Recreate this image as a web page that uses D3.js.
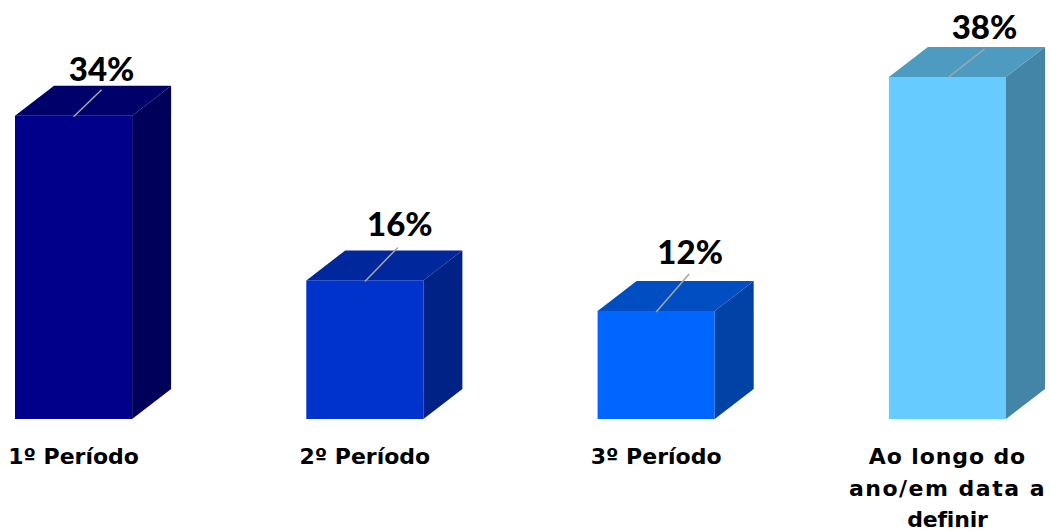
<!DOCTYPE html>
<html lang="pt">
<head>
<meta charset="UTF-8">
<title>Períodos</title>
<script src="https://d3js.org/d3.v7.min.js"></script>
<style>
  html, body { margin: 0; padding: 0; background: #fff; }
  svg { display: block; }
  text { font-family: "Lato", "Open Sans", sans-serif; font-weight: 900; fill: #000; }
  .cat { font-family: "DejaVu Sans", sans-serif; font-weight: 700; }
</style>
</head>
<body>
<svg id="chart" width="1050" height="532"></svg>
<script>
// values
var categories = ["1º Período", "2º Período", "3º Período", "Ao longo do|ano/em data a|definir"];
var values = [33.7, 15.4, 12, 38];
var valueLabels = ["34%", "16%", "12%", "38%"];
var barColors = ["#00008b", "#0033cc", "#0066ff", "#66ccff"];

// layout
var width = 1050, height = 532;
var baseY = 419, topY = 77;
var depthX = 39, depthY = 30;
// label and leader placement, relative to the middle of each bar's top edge
var labelDx = [28, 35, 34, 37];
var labelDy = [-35, -44, -47, -38];
var leaderDx = [28, 33, 33, 37];
var leaderDy = [-26, -33, -37, -28];
// the long label needs some tracking to reach the reference's line widths
var lineTracking = { "Ao longo do": 0.9, "ano/em data a": 1.5, "definir": -0.2 };

var svg = d3.select("#chart");

var x = d3.scaleBand()
    .domain(categories)
    .range([15, 1006])
    .paddingInner(0.598)
    .paddingOuter(0);

var y = d3.scaleLinear()
    .domain([0, 38])
    .range([baseY, topY]);

function shade(c, k) {
    var r = d3.rgb(c);
    return d3.rgb(r.r * k, r.g * k, r.b * k).formatHex();
}

var bars = svg.selectAll(".bar")
    .data(categories)
    .enter().append("g")
    .attr("class", "bar");

// side face
bars.append("path")
    .attr("fill", function(d, i) { return shade(barColors[i], 0.65); })
    .attr("d", function(d, i) {
        var x1 = x(d) + x.bandwidth(), t = y(values[i]);
        return "M" + x1 + "," + t + "L" + (x1 + depthX) + "," + (t - depthY) +
            "L" + (x1 + depthX) + "," + (baseY - depthY) + "L" + x1 + "," + baseY + "Z";
    });

// top face
bars.append("path")
    .attr("fill", function(d, i) { return shade(barColors[i], 0.76); })
    .attr("d", function(d, i) {
        var x0 = x(d), x1 = x0 + x.bandwidth(), t = y(values[i]);
        return "M" + x0 + "," + t + "L" + (x0 + depthX) + "," + (t - depthY) +
            "L" + (x1 + depthX) + "," + (t - depthY) + "L" + x1 + "," + t + "Z";
    });

// front face
bars.append("rect")
    .attr("x", function(d) { return x(d); })
    .attr("y", function(d, i) { return y(values[i]); })
    .attr("width", x.bandwidth())
    .attr("height", function(d, i) { return baseY - y(values[i]); })
    .attr("fill", function(d, i) { return barColors[i]; });

// leader lines
bars.append("line")
    .attr("x1", function(d) { return x(d) + x.bandwidth() / 2; })
    .attr("y1", function(d, i) { return y(values[i]) + 1; })
    .attr("x2", function(d, i) { return x(d) + x.bandwidth() / 2 + leaderDx[i]; })
    .attr("y2", function(d, i) { return y(values[i]) + leaderDy[i]; })
    .attr("stroke", "#a6a6a6")
    .attr("stroke-width", 1.5);

// value labels
bars.append("text")
    .attr("x", function(d, i) { return x(d) + x.bandwidth() / 2 + labelDx[i]; })
    .attr("y", function(d, i) { return y(values[i]) + labelDy[i]; })
    .attr("text-anchor", "middle")
    .attr("font-size", 33)
    .text(function(d, i) { return valueLabels[i]; });

// category labels, split on |
bars.append("text")
    .attr("class", "cat")
    .attr("text-anchor", "middle")
    .attr("font-size", 22)
    .selectAll("tspan")
    .data(function(d) { return d.split("|").map(function(s) { return { s: s, c: d }; }); })
    .enter().append("tspan")
    .attr("x", function(d) { return x(d.c) + x.bandwidth() / 2; })
    .attr("y", function(d, i) { return 464 + i * 31.5; })
    .attr("letter-spacing", function(d) { return lineTracking[d.s] || 0; })
    .text(function(d) { return d.s; });
</script>
</body>
</html>
